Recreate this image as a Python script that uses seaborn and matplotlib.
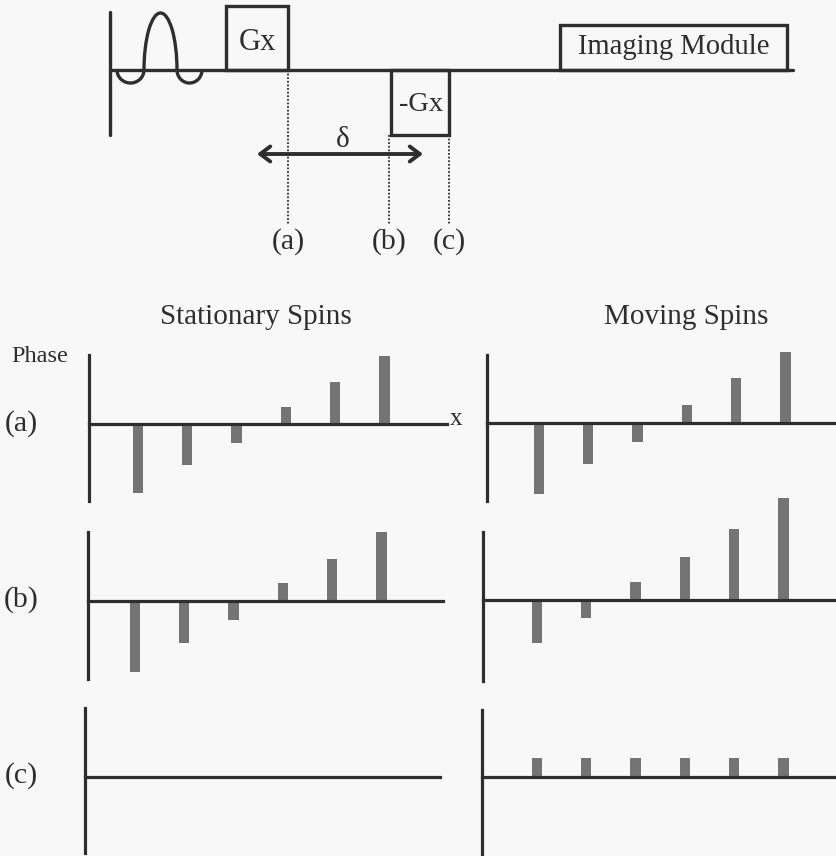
import matplotlib
matplotlib.use("Agg")
import matplotlib.pyplot as plt
from matplotlib.patches import Rectangle, Arc
import seaborn as sns

sns.set_theme(style="white")
plt.rcParams['font.family'] = ['Liberation Serif', 'DejaVu Serif']

# ---------------- data ----------------
spins = ["s1", "s2", "s3", "s4", "s5", "s6"]
stationary_a = [-69, -41, -19, 17, 42, 68]
stationary_b = [-71, -42, -19, 18, 42, 69]
stationary_c = [0, 0, 0, 0, 0, 0]
moving_a = [-71, -41, -19, 18, 45, 71]
moving_b = [-43, -18, 18, 43, 71, 102]
moving_c = [19, 19, 19, 19, 19, 19]

row_labels = ["(a)", "(b)", "(c)"]
column_titles = ["Stationary Spins", "Moving Spins"]

# pulse sequence timing (time axis units) and amplitudes
gx_lobe = [226, 288, 64]          # start, end, amplitude
neg_gx_lobe = [391, 449, -65]
imaging_module = [560, 787, 45]
sequence_span = [110, 793]
time_points = [288, 389, 449]     # (a), (b), (c)
delta_span = [257, 423]

W, H = 837, 856
BG = "#f8f8f8"
INK = "#2e2e2e"
BAR = "#747474"

fig = plt.figure(figsize=(W / 100, H / 100), dpi=100, facecolor=BG)


def fx(px):
    return px / W


def fy(py):
    return 1 - py / H


# ---------------- pulse sequence diagram ----------------
seq_top, seq_bot = 0, 270
ax_seq = fig.add_axes([0, fy(seq_bot), 1, (seq_bot - seq_top) / H])
ax_seq.set_xlim(0, W)
ax_seq.set_ylim(-(seq_bot - 70), 70)
ax_seq.axis("off")
ax_seq.patch.set_alpha(0)

lw = 2.4
ax_seq.plot([sequence_span[0], sequence_span[0]], [58, -65], color=INK, lw=lw)
ax_seq.plot(sequence_span, [0, 0], color=INK, lw=lw)
# RF pulse
ax_seq.add_patch(Arc((160.5, 0), 33, 114, theta1=0, theta2=180, color=INK, lw=lw))
ax_seq.add_patch(Arc((130.5, 0), 27, 26, theta1=180, theta2=360, color=INK, lw=lw))
ax_seq.add_patch(Arc((189.5, 0), 25, 26, theta1=180, theta2=360, color=INK, lw=lw))
# gradient lobes and imaging module
for s, e, a in [gx_lobe, neg_gx_lobe, imaging_module]:
    ax_seq.add_patch(Rectangle((s, 0), e - s, a, fill=False, ec=INK, lw=lw))
ax_seq.text((gx_lobe[0] + gx_lobe[1]) / 2, gx_lobe[2] / 2 - 4, "Gx",
            ha="center", va="center", fontsize=22, color=INK)
ax_seq.text((neg_gx_lobe[0] + neg_gx_lobe[1]) / 2 + 1, neg_gx_lobe[2] / 2 - 2, "-Gx",
            ha="center", va="center", fontsize=20.5, color=INK)
ax_seq.text((imaging_module[0] + imaging_module[1]) / 2, imaging_module[2] / 2,
            "Imaging Module", ha="center", va="center", fontsize=20.6, color=INK)
# dotted time markers
starts = [0, neg_gx_lobe[2], neg_gx_lobe[2]]
for t, s0, lab in zip(time_points, starts, row_labels):
    ax_seq.plot([t, t], [s0, -155], color=INK, lw=1.3, ls=(0, (1, 1)))
    ax_seq.text(t, -172, lab, ha="center", va="center", fontsize=21.5, color=INK)
# delta arrow
ax_seq.annotate("", xy=(delta_span[0], -84), xytext=(delta_span[1], -84),
                arrowprops=dict(arrowstyle="<->,head_length=0.6,head_width=0.45",
                                color=INK, lw=2.8, shrinkA=0, shrinkB=0))
ax_seq.text(343, -70, "δ", ha="center", va="center", fontsize=21, color=INK)

# ---------------- phase panels ----------------
spacing = 49.3
# x_left, first bar centre, x_right, baseline (px), spine top/bottom (px)
layouts = {
    ("L", 0): (89, 138, 447, 424, 355, 501),
    ("L", 1): (88, 135, 443, 601, 532, 679),
    ("L", 2): (85, 135, 440, 777, 708, 853),
    ("R", 0): (487, 539, 837, 423, 355, 501),
    ("R", 1): (483, 537, 837, 600, 532, 681),
    ("R", 2): (482, 537, 837, 777, 710, 856),
}
series = {
    ("L", 0): stationary_a, ("L", 1): stationary_b, ("L", 2): stationary_c,
    ("R", 0): moving_a, ("R", 1): moving_b, ("R", 2): moving_c,
}
up, down = 110, 90
for key, vals in series.items():
    xl, c0, xr, base, top, bot = layouts[key]
    ax = fig.add_axes([fx(xl), fy(base + down), (xr - xl) / W, (up + down) / H])
    ax.patch.set_alpha(0)
    sns.barplot(x=spins, y=vals, color=BAR, width=0.21, saturation=1, ax=ax,
                linewidth=0, errorbar=None)
    ax.set_xlim(-(c0 - xl) / spacing, (xr - c0) / spacing)
    ax.set_ylim(-down, up)
    ax.set_xticks([])
    ax.set_yticks([])
    ax.set_xlabel("")
    ax.set_ylabel("")
    for side in ["top", "right"]:
        ax.spines[side].set_visible(False)
    ax.spines["left"].set_bounds(base - bot, base - top)
    ax.spines["bottom"].set_position(("data", 0))
    for side in ["left", "bottom"]:
        ax.spines[side].set_color(INK)
        ax.spines[side].set_linewidth(2.3)
        ax.spines[side].set_visible(True)

# texts
fig.text(fx(256), fy(317), column_titles[0], ha="center", va="center", fontsize=21, color=INK)
fig.text(fx(686), fy(317), column_titles[1], ha="center", va="center", fontsize=21, color=INK)
fig.text(fx(40), fy(356), "Phase", ha="center", va="center", fontsize=17.5, color=INK)
fig.text(fx(456), fy(419), "x", ha="center", va="center", fontsize=18, color=INK)
for lab, py in zip(row_labels, [424, 600, 776]):
    fig.text(fx(21), fy(py), lab, ha="center", va="center", fontsize=21.5, color=INK)

fig.savefig("out.png", dpi=100, facecolor=BG)
